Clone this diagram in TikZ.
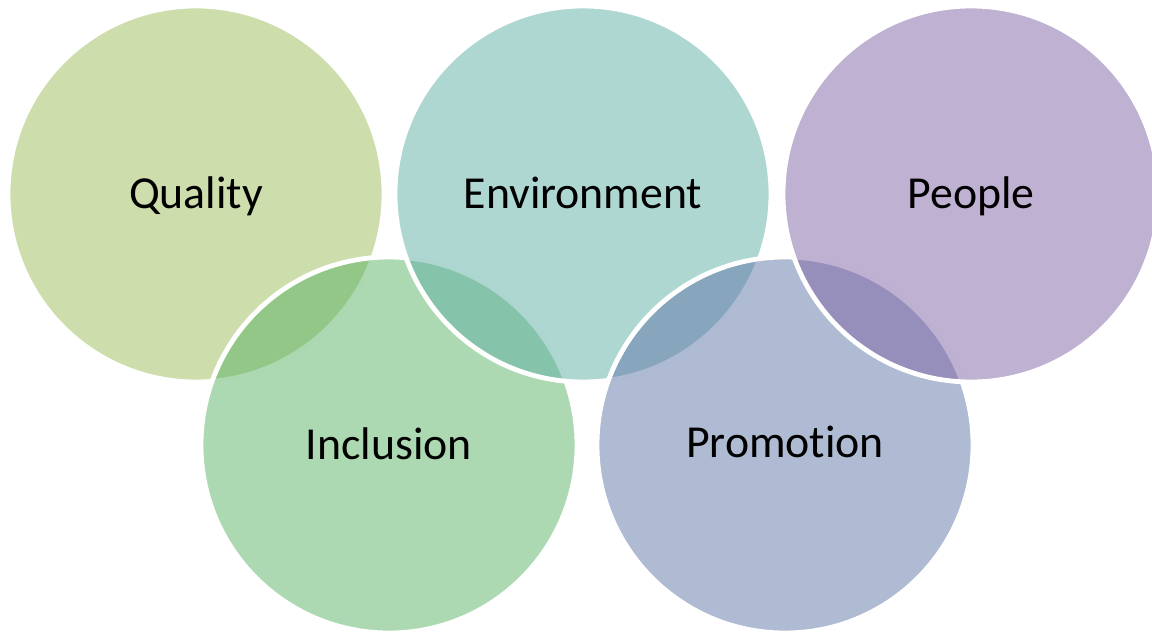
\documentclass[tikz,border=0pt]{standalone}
\usepackage{fontspec}
\setmainfont{Carlito}[Ligatures={NoCommon}]
% apparent colours over white, stored as fill colour for opacity 0.5 (2*C - 255)
\definecolor{cQual}{RGB}{155,187,89}
\definecolor{cEnv}{RGB}{95,175,165}
\definecolor{cPeop}{RGB}{127,99,165}
\definecolor{cIncl}{RGB}{91,179,101}
\definecolor{cProm}{RGB}{95,117,167}
\tikzset{
  ring/.style={circle, minimum size=188pt, inner sep=0pt, draw=white, line width=2.4pt, fill opacity=0.5, draw opacity=1},
  lbl/.style={anchor=base, inner sep=0pt, text=black, font=\fontsize{22.9pt}{28pt}\selectfont}
}
\begin{document}
\begin{tikzpicture}[x=0.5pt,y=-0.5pt]
\useasboundingbox (0,0) rectangle (1152,632);
\begin{scope}
\clip (0,0) rectangle (1152,632);
\node[ring, fill=cQual] (q) at (196,194) {};
\node[ring, fill=cIncl] (i) at (389,445) {};
\node[ring, fill=cEnv]  (e) at (583,194) {};
\node[ring, fill=cProm] (pr) at (785,445) {};
\node[ring, fill=cPeop] (p) at (971,194) {};
\end{scope}
\node[lbl] (tq) at ([yshift=-7pt]q.center) {Quality};
\node[lbl] (ti) at ([yshift=-7pt]i.center) {Inclusion};
\node[lbl] (te) at ([yshift=-7pt]e.center) {Environment};
\node[lbl] (tpr) at ([yshift=-6pt]pr.center) {Promotion};
\node[lbl] (tp) at ([yshift=-7pt]p.center) {People};
\end{tikzpicture}
\end{document}
